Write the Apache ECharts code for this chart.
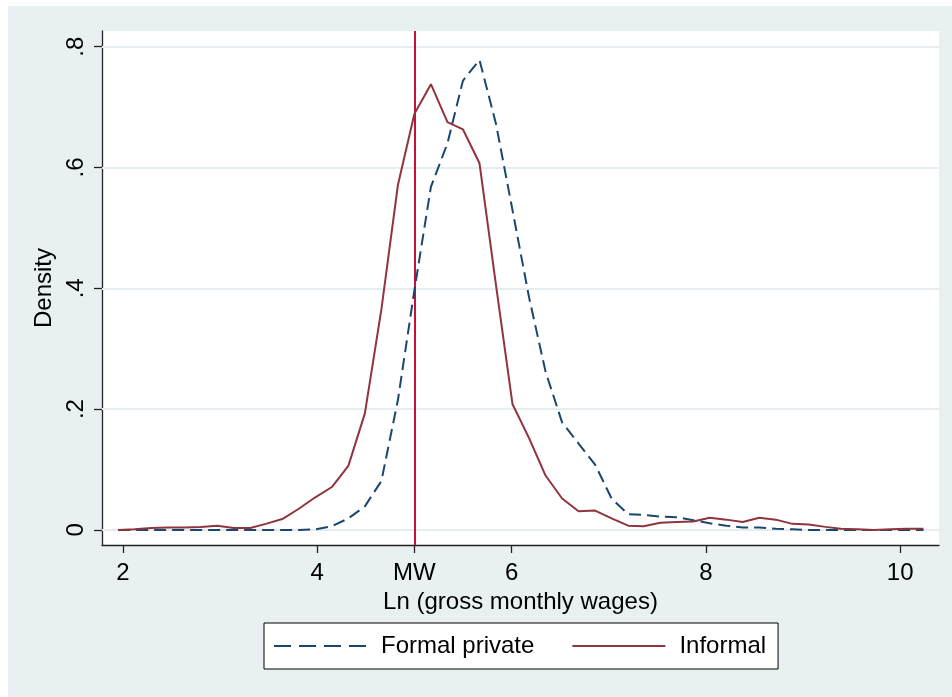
<!DOCTYPE html>
<html>
<head>
<meta charset="utf-8">
<script src="https://cdn.jsdelivr.net/npm/echarts@6/dist/echarts.min.js"></script>
<style>
html, body { margin: 0; padding: 0; background: #ffffff; }
#chart { position: absolute; left: 8px; top: 6px; width: 944px; height: 691px; }
</style>
</head>
<body>
<div id="chart"></div>
<script>
// evaluation points of the kernel density (ln wages)
var xPoints = [1.95, 2.12, 2.29, 2.46, 2.63, 2.80, 2.97, 3.14, 3.31, 3.47,
	3.64, 3.81, 3.98, 4.15, 4.32, 4.49, 4.66, 4.83, 5.00, 5.17,
	5.34, 5.50, 5.67, 5.84, 6.01, 6.18, 6.35, 6.52, 6.69, 6.86,
	7.03, 7.20, 7.36, 7.53, 7.70, 7.87, 8.04, 8.21, 8.38, 8.55,
	8.72, 8.89, 9.06, 9.23, 9.39, 9.56, 9.73, 9.90, 10.07, 10.24];

var formalPrivate = [0, 0, 0, 0, 0, 0, 0, 0, 0, 0,
	0, 0, 0.001, 0.006, 0.019, 0.039, 0.081, 0.215, 0.397, 0.568,
	0.640, 0.744, 0.778, 0.672, 0.529, 0.385, 0.262, 0.178, 0.143, 0.108,
	0.052, 0.026, 0.025, 0.022, 0.021, 0.016, 0.011, 0.007, 0.004, 0.004,
	0.002, 0.001, 0, 0, 0, 0, 0, 0, 0, 0];

var informal = [0, 0.001, 0.003, 0.004, 0.004, 0.005, 0.007, 0.003, 0.003, 0.010,
	0.018, 0.035, 0.054, 0.071, 0.106, 0.193, 0.365, 0.571, 0.689, 0.738,
	0.675, 0.663, 0.607, 0.405, 0.208, 0.152, 0.090, 0.052, 0.031, 0.032,
	0.019, 0.007, 0.006, 0.012, 0.013, 0.014, 0.020, 0.017, 0.013, 0.020,
	0.017, 0.010, 0.009, 0.005, 0.002, 0.001, 0, 0.001, 0.002, 0.002];

var minWage = 5.0;
var xTicks = [2, 4, 5, 6, 8, 10];
var xTickLabels = ['2', '4', 'MW', '6', '8', '10'];
var yTicks = [0, 0.2, 0.4, 0.6, 0.8];
var yTickLabels = ['0', '.2', '.4', '.6', '.8'];

function pairs(xs, ys) {
	var out = [];
	for (var i = 0; i < xs.length; i++) {
		out.push([xs[i], ys[i]]);
	}
	return out;
}

var FONT = "'Liberation Sans', Arial, sans-serif";
var chart = echarts.init(document.getElementById('chart'), null, { renderer: 'canvas' });

chart.setOption({
	backgroundColor: '#e9f0f2',
	animation: false,
	textStyle: { fontFamily: FONT },
	grid: {
		left: 94, top: 25, right: 13, bottom: 152,
		show: true, backgroundColor: '#ffffff', borderWidth: 0
	},
	legend: {
		data: [
			{ name: 'Formal private', lineStyle: { type: [17, 8] } },
			{ name: 'Informal' }
		],
		left: 256, top: 617,
		orient: 'horizontal',
		backgroundColor: '#ffffff',
		borderColor: '#000000',
		borderWidth: 1,
		borderRadius: 0,
		padding: [11, 12, 11, 9],
		itemWidth: 93, itemHeight: 14, itemGap: 37,
		itemStyle: { opacity: 0 }, // no marker in the key, only the line
		textStyle: { fontSize: 24, color: '#000000', fontFamily: FONT, padding: [0, 0, 0, 9] }
	},
	xAxis: {
		type: 'value',
		min: 1.784, max: 10.40,
		name: 'Ln (gross monthly wages)',
		nameLocation: 'middle', nameGap: 37,
		nameTextStyle: { fontSize: 24, color: '#000000', fontFamily: FONT },
		axisLine: { show: true, onZero: false, lineStyle: { color: '#222222', width: 1.3 } },
		axisTick: { show: true, length: 8, customValues: xTicks, lineStyle: { color: '#222222', width: 1.3 } },
		axisLabel: {
			customValues: xTicks, margin: 16, fontSize: 24, color: '#000000', fontFamily: FONT,
			formatter: function (v) {
				var k = xTicks.indexOf(v);
				return k >= 0 ? xTickLabels[k] : '';
			}
		},
		splitLine: { show: false }
	},
	yAxis: {
		type: 'value',
		min: -0.025, max: 0.826,
		name: 'Density',
		nameLocation: 'middle', nameGap: 40,
		nameTextStyle: { fontSize: 24, color: '#000000', fontFamily: FONT },
		axisLine: { show: true, onZero: false, lineStyle: { color: '#222222', width: 1.3 } },
		axisTick: { show: true, length: 8, customValues: yTicks, lineStyle: { color: '#222222', width: 1.3 } },
		axisLabel: {
			customValues: yTicks, margin: 14, rotate: 90, fontSize: 24, color: '#000000', fontFamily: FONT,
			formatter: function (v) {
				for (var k = 0; k < yTicks.length; k++) {
					if (Math.abs(yTicks[k] - v) < 1e-6) return yTickLabels[k];
				}
				return '';
			}
		},
		splitLine: { show: false }
	},
	series: [
		{
			// horizontal grid lines
			name: 'gridlines', type: 'line', data: [], z: 1, silent: true,
			markLine: {
				z: 1, silent: true, symbol: ['none', 'none'], label: { show: false },
				lineStyle: { color: '#e4edf0', width: 2, type: 'solid' },
				data: yTicks.map(function (t) { return { yAxis: t }; })
			}
		},
		{
			// minimum wage line
			name: 'mw', type: 'line', data: [], z: 2, silent: true,
			markLine: {
				z: 2, silent: true, symbol: ['none', 'none'], label: { show: false },
				lineStyle: { color: '#c8103a', width: 2, type: 'solid' },
				data: [{ xAxis: minWage }]
			}
		},
		{
			name: 'Formal private', type: 'line', z: 3,
			data: pairs(xPoints, formalPrivate),
			symbol: 'none', smooth: false,
			lineStyle: { color: '#1a476f', width: 2, type: [12, 6] },
			itemStyle: { color: '#1a476f' }
		},
		{
			name: 'Informal', type: 'line', z: 3,
			data: pairs(xPoints, informal),
			symbol: 'none', smooth: false,
			lineStyle: { color: '#90353b', width: 2, type: 'solid' },
			itemStyle: { color: '#90353b' }
		}
	]
});
</script>
</body>
</html>
